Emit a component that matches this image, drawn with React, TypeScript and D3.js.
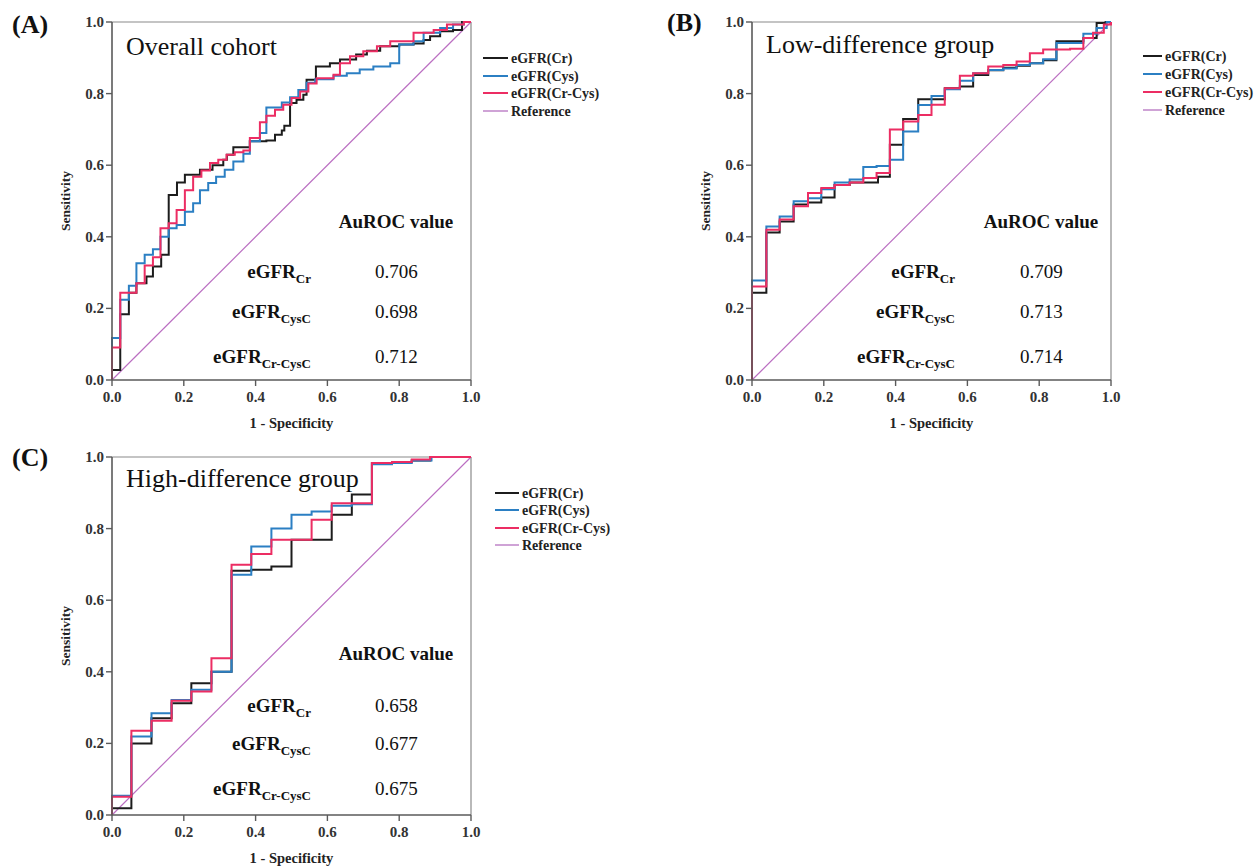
import React from "react";
import * as d3 from "d3";

// ---------- DATA ----------
const seriesNames = ["eGFR(Cr)", "eGFR(Cys)", "eGFR(Cr-Cys)", "Reference"];
const axisTicks = [0, 0.2, 0.4, 0.6, 0.8, 1.0];
const panelLetters = ["(A)", "(B)", "(C)"];
const panelTitles = ["Overall cohort", "Low-difference group", "High-difference group"];
const aurocLabels = ["Cr", "CysC", "Cr-CysC"];
const aurocA = ["0.706", "0.698", "0.712"];
const aurocB = ["0.709", "0.713", "0.714"];
const aurocC = ["0.658", "0.677", "0.675"];

// Panel A (Overall cohort): ROC step vertices (fpr at jump, tpr after jump)
const A_cr_fpr = [0, 0.023, 0.047, 0.068, 0.096, 0.114, 0.137, 0.158, 0.181, 0.203, 0.245, 0.28, 0.31, 0.32, 0.338, 0.384, 0.43, 0.454, 0.473, 0.48, 0.496, 0.514, 0.533, 0.542, 0.568, 0.607, 0.635, 0.68, 0.71, 0.747, 0.8, 0.84, 0.868, 0.886, 0.914, 0.95, 0.975, 1];
const A_cr_tpr = [0.028, 0.184, 0.244, 0.27, 0.289, 0.317, 0.35, 0.517, 0.552, 0.573, 0.587, 0.6, 0.615, 0.629, 0.65, 0.667, 0.669, 0.685, 0.697, 0.71, 0.774, 0.783, 0.797, 0.839, 0.876, 0.885, 0.895, 0.909, 0.92, 0.932, 0.937, 0.94, 0.95, 0.96, 0.974, 0.978, 1.0, 1.0];
const A_cys_fpr = [0, 0.023, 0.047, 0.068, 0.091, 0.114, 0.135, 0.158, 0.18, 0.203, 0.226, 0.245, 0.268, 0.29, 0.314, 0.338, 0.366, 0.384, 0.412, 0.43, 0.473, 0.496, 0.519, 0.542, 0.566, 0.617, 0.654, 0.69, 0.728, 0.775, 0.8, 0.84, 0.868, 0.914, 0.95, 0.98, 1];
const A_cys_tpr = [0.117, 0.224, 0.263, 0.326, 0.35, 0.365, 0.4, 0.424, 0.433, 0.47, 0.494, 0.53, 0.55, 0.568, 0.587, 0.61, 0.632, 0.667, 0.69, 0.761, 0.775, 0.79, 0.81, 0.83, 0.84, 0.85, 0.857, 0.867, 0.876, 0.885, 0.937, 0.946, 0.97, 0.983, 0.993, 1.0, 1.0];
const A_crcys_fpr = [0, 0.023, 0.068, 0.091, 0.114, 0.135, 0.158, 0.18, 0.203, 0.226, 0.249, 0.273, 0.296, 0.319, 0.342, 0.366, 0.384, 0.412, 0.43, 0.454, 0.477, 0.5, 0.524, 0.547, 0.57, 0.617, 0.635, 0.663, 0.7, 0.738, 0.775, 0.84, 0.896, 0.933, 0.98, 1];
const A_crcys_tpr = [0.091, 0.244, 0.27, 0.32, 0.343, 0.424, 0.438, 0.475, 0.53, 0.568, 0.585, 0.606, 0.615, 0.629, 0.636, 0.641, 0.676, 0.72, 0.738, 0.755, 0.769, 0.788, 0.806, 0.828, 0.843, 0.853, 0.885, 0.904, 0.918, 0.932, 0.946, 0.97, 0.978, 0.993, 1.0, 1.0];

// Panel B (Low-difference group)
const B_cr_fpr = [0, 0.04, 0.077, 0.116, 0.156, 0.193, 0.23, 0.272, 0.351, 0.384, 0.421, 0.463, 0.537, 0.579, 0.616, 0.658, 0.7, 0.737, 0.774, 0.811, 0.848, 0.923, 0.96, 0.985, 1];
const B_cr_tpr = [0.244, 0.412, 0.443, 0.49, 0.496, 0.51, 0.545, 0.552, 0.568, 0.657, 0.729, 0.784, 0.815, 0.82, 0.852, 0.865, 0.872, 0.878, 0.885, 0.893, 0.946, 0.955, 0.997, 1.0, 1.0];
const B_cys_fpr = [0, 0.04, 0.077, 0.116, 0.156, 0.193, 0.23, 0.272, 0.31, 0.347, 0.384, 0.421, 0.463, 0.5, 0.537, 0.579, 0.616, 0.658, 0.7, 0.737, 0.774, 0.811, 0.848, 0.923, 0.96, 0.988, 1];
const B_cys_tpr = [0.278, 0.429, 0.457, 0.499, 0.508, 0.533, 0.552, 0.56, 0.595, 0.598, 0.615, 0.694, 0.768, 0.793, 0.812, 0.836, 0.857, 0.866, 0.87, 0.88, 0.885, 0.896, 0.941, 0.967, 0.983, 1.0, 1.0];
const B_crcys_fpr = [0, 0.04, 0.077, 0.116, 0.156, 0.193, 0.23, 0.272, 0.31, 0.347, 0.384, 0.421, 0.463, 0.5, 0.537, 0.579, 0.616, 0.658, 0.7, 0.737, 0.774, 0.811, 0.886, 0.923, 0.95, 0.98, 1];
const B_crcys_tpr = [0.261, 0.42, 0.448, 0.485, 0.522, 0.536, 0.545, 0.552, 0.564, 0.578, 0.7, 0.722, 0.74, 0.769, 0.815, 0.85, 0.857, 0.876, 0.88, 0.89, 0.913, 0.923, 0.925, 0.955, 0.97, 0.993, 1.0];

// Panel C (High-difference group)
const C_cr_fpr = [0, 0.054, 0.11, 0.166, 0.221, 0.277, 0.333, 0.388, 0.444, 0.5, 0.612, 0.668, 0.724, 0.78, 0.835, 0.887, 1];
const C_cr_tpr = [0.019, 0.2, 0.27, 0.312, 0.368, 0.4, 0.682, 0.685, 0.694, 0.769, 0.839, 0.895, 0.983, 0.986, 0.99, 1.0, 1.0];
const C_cys_fpr = [0, 0.054, 0.11, 0.166, 0.221, 0.277, 0.333, 0.388, 0.444, 0.5, 0.556, 0.612, 0.668, 0.724, 0.78, 0.835, 0.89, 1];
const C_cys_tpr = [0.054, 0.219, 0.284, 0.321, 0.35, 0.4, 0.671, 0.75, 0.8, 0.839, 0.848, 0.864, 0.868, 0.98, 0.983, 0.99, 1.0, 1.0];
const C_crcys_fpr = [0, 0.054, 0.11, 0.166, 0.221, 0.277, 0.333, 0.388, 0.444, 0.556, 0.612, 0.724, 0.78, 0.835, 0.886, 1];
const C_crcys_tpr = [0.051, 0.235, 0.263, 0.319, 0.345, 0.438, 0.699, 0.729, 0.769, 0.825, 0.871, 0.983, 0.986, 0.993, 1.0, 1.0];

// ---------- STYLE / LAYOUT ----------
const COLORS = ["#1c1c1c", "#2b7fc3", "#ec2d63", "#bb6fc2"];
const LEGEND_REF_COLOR = "#cfa3d6";
const FONT = '"Liberation Serif", "DejaVu Serif", serif';
const W = 1259;
const H = 866;
const PW = 359;
const PH = 358;

type Curve = { fpr: number[]; tpr: number[] };
type PanelCfg = {
  letter: string;
  title: string;
  x0: number;
  y0: number;
  curves: Curve[];
  auroc: string[];
  letterX: number;
  letterY: number;
  legendLineX: number;
  legendTextX: number;
  legendY: number[];
  tableCenter: number;
  tableLabelEnd: number;
  tableValueX: number;
  tableHeadY: number;
  tableRowY: number[];
  titleX: number;
  titleY: number;
};

const panels: PanelCfg[] = [
  {
    letter: panelLetters[0], title: panelTitles[0], x0: 112, y0: 22,
    curves: [
      { fpr: A_cr_fpr, tpr: A_cr_tpr },
      { fpr: A_cys_fpr, tpr: A_cys_tpr },
      { fpr: A_crcys_fpr, tpr: A_crcys_tpr },
    ],
    auroc: aurocA, letterX: 12, letterY: 33,
    legendLineX: 483, legendTextX: 511, legendY: [58, 76, 93, 111],
    tableCenter: 396, tableLabelEnd: 311, tableValueX: 375, tableHeadY: 228, tableRowY: [278, 318, 363],
    titleX: 126, titleY: 55,
  },
  {
    letter: panelLetters[1], title: panelTitles[1], x0: 752, y0: 22,
    curves: [
      { fpr: B_cr_fpr, tpr: B_cr_tpr },
      { fpr: B_cys_fpr, tpr: B_cys_tpr },
      { fpr: B_crcys_fpr, tpr: B_crcys_tpr },
    ],
    auroc: aurocB, letterX: 667, letterY: 31,
    legendLineX: 1143, legendTextX: 1165, legendY: [56, 74, 92, 110],
    tableCenter: 1041, tableLabelEnd: 955, tableValueX: 1020, tableHeadY: 228, tableRowY: [278, 318, 363],
    titleX: 766, titleY: 53,
  },
  {
    letter: panelLetters[2], title: panelTitles[2], x0: 112, y0: 457,
    curves: [
      { fpr: C_cr_fpr, tpr: C_cr_tpr },
      { fpr: C_cys_fpr, tpr: C_cys_tpr },
      { fpr: C_crcys_fpr, tpr: C_crcys_tpr },
    ],
    auroc: aurocC, letterX: 12, letterY: 466,
    legendLineX: 495, legendTextX: 522, legendY: [493, 510, 528, 545],
    tableCenter: 396, tableLabelEnd: 311, tableValueX: 375, tableHeadY: 660, tableRowY: [712, 750, 795],
    titleX: 126, titleY: 487,
  },
];

const txt = (size: number, bold = false): React.CSSProperties => ({
  fontFamily: FONT,
  fontSize: size,
  fontWeight: bold ? 700 : 400,
});

function Panel({ cfg }: { cfg: PanelCfg }) {
  const x = d3.scaleLinear().domain([0, 1]).range([cfg.x0, cfg.x0 + PW]);
  const y = d3.scaleLinear().domain([0, 1]).range([cfg.y0 + PH, cfg.y0]);
  const line = d3
    .line<[number, number]>()
    .x((d) => x(d[0]))
    .y((d) => y(d[1]))
    .curve(d3.curveStepAfter);
  const refLine = d3
    .line<[number, number]>()
    .x((d) => x(d[0]))
    .y((d) => y(d[1]));

  const axisColor = "#5a5a5a";
  const frameColor = "#8a8a8a";

  return (
    <g>
      <line x1={x(0)} x2={x(1)} y1={y(1)} y2={y(1)} stroke={frameColor} strokeWidth={1.2} />
      <line x1={x(1)} x2={x(1)} y1={y(0)} y2={y(1)} stroke={frameColor} strokeWidth={1.2} />
      <path d={refLine([[0, 0], [1, 1]]) || ""} stroke={COLORS[3]} strokeWidth={1.2} fill="none" />
      {cfg.curves.map((c, i) => {
        const pts: [number, number][] = [[0, 0]];
        c.fpr.forEach((f, k) => pts.push([f, c.tpr[k]]));
        pts.push([1, 1]);
        return <path key={i} d={line(pts) || ""} stroke={COLORS[i]} strokeWidth={2} fill="none" />;
      })}
      <line x1={x(0)} x2={x(1)} y1={y(0)} y2={y(0)} stroke={axisColor} strokeWidth={1.6} />
      <line x1={x(0)} x2={x(0)} y1={y(0)} y2={y(1)} stroke={axisColor} strokeWidth={1.6} />
      {axisTicks.map((t) => (
        <g key={"x" + t}>
          <line x1={x(t)} x2={x(t)} y1={y(0)} y2={y(0) + 6} stroke={axisColor} strokeWidth={1.4} />
          <text x={x(t)} y={y(0) + 22} textAnchor="middle" style={txt(15, true)} fill="#333">
            {t.toFixed(1)}
          </text>
        </g>
      ))}
      {axisTicks.map((t) => (
        <g key={"y" + t}>
          <line x1={x(0) - 6} x2={x(0)} y1={y(t)} y2={y(t)} stroke={axisColor} strokeWidth={1.4} />
          <text x={x(0) - 8} y={y(t) + 5} textAnchor="end" style={txt(15, true)} fill="#333">
            {t.toFixed(1)}
          </text>
        </g>
      ))}
      <text x={x(0.5)} y={y(0) + 48} textAnchor="middle" style={txt(14.5, true)} fill="#222">
        1 - Specificity
      </text>
      <text transform={`translate(${x(0) - 42},${y(0.5)}) rotate(-90)`} textAnchor="middle" style={txt(13.5, true)} fill="#222">
        Sensitivity
      </text>
      <text x={cfg.letterX} y={cfg.letterY} style={txt(26, true)} fill="#111">
        {cfg.letter}
      </text>
      <text x={cfg.titleX} y={cfg.titleY} style={txt(26)} fill="#111">
        {cfg.title}
      </text>
      <text x={cfg.tableCenter} y={cfg.tableHeadY} textAnchor="middle" style={txt(19, true)} fill="#111">
        AuROC value
      </text>
      {aurocLabels.map((lab, i) => (
        <g key={lab}>
          <text x={cfg.tableLabelEnd} y={cfg.tableRowY[i]} textAnchor="end" style={txt(19, true)} fill="#111">
            eGFR
            <tspan style={{ fontSize: 13 }} dy={5}>{lab}</tspan>
          </text>
          <text x={cfg.tableValueX} y={cfg.tableRowY[i]} style={txt(19)} fill="#111">
            {cfg.auroc[i]}
          </text>
        </g>
      ))}
      {seriesNames.map((n, i) => (
        <g key={n}>
          <line
            x1={cfg.legendLineX}
            x2={cfg.legendTextX - 3}
            y1={cfg.legendY[i]}
            y2={cfg.legendY[i]}
            stroke={i === 3 ? LEGEND_REF_COLOR : COLORS[i]}
            strokeWidth={2}
          />
          <text x={cfg.legendTextX} y={cfg.legendY[i] + 4.5} style={txt(14, true)} fill="#222">
            {n}
          </text>
        </g>
      ))}
    </g>
  );
}

export default function App() {
  return (
    <svg width={W} height={H} viewBox={`0 0 ${W} ${H}`} style={{ position: "absolute", left: 0, top: 0, background: "#fff" }}>
      <rect x={0} y={0} width={W} height={H} fill="#fff" />
      {panels.map((p) => (
        <Panel key={p.letter} cfg={p} />
      ))}
    </svg>
  );
}
